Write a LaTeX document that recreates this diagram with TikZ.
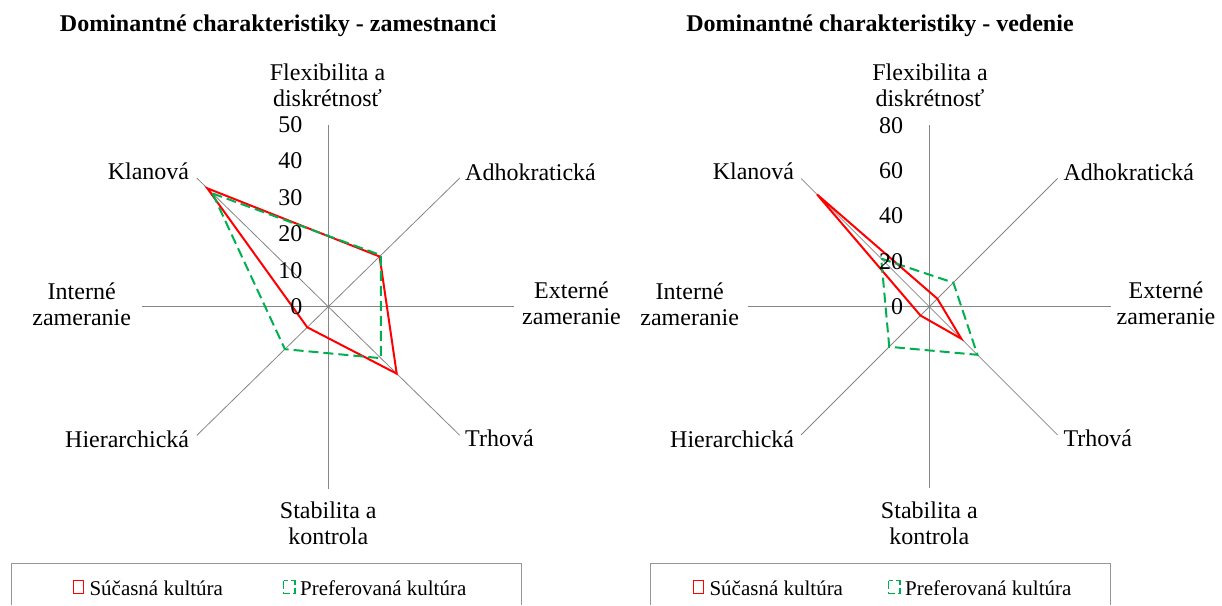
\documentclass[tikz,border=0pt]{standalone}
\usepackage{fontspec}
\setmainfont{Liberation Serif}
\definecolor{curred}{RGB}{255,0,0}
\definecolor{prefgreen}{RGB}{0,176,80}
\definecolor{axisgray}{RGB}{134,134,134}
\definecolor{boxgray}{RGB}{150,150,150}
\begin{document}
\begin{tikzpicture}[x=1pt,y=-1pt,
  lbl/.style={font=\fontsize{24}{26}\selectfont, inner sep=0pt},
  ttl/.style={font=\fontsize{24}{26}\selectfont\bfseries, inner sep=0pt, anchor=base},
  tick/.style={font=\fontsize{24}{26}\selectfont, inner sep=0pt, anchor=east},
  axis/.style={draw=axisgray, line width=0.8pt},
  cur/.style={draw=curred, line width=2pt},
  pref/.style={draw=prefgreen, line width=2pt, dash pattern=on 10pt off 5pt},
  legtxt/.style={font=\fontsize{21}{23}\selectfont, inner sep=0pt, anchor=base west},
  legbox/.style={draw=boxgray, line width=1pt},
  curmark/.style={draw=curred, line width=1.5pt},
  prefmark/.style={draw=prefgreen, line width=1.5pt, dash pattern=on 8pt off 3pt}]
\useasboundingbox (0,0) rectangle (1222,605);

% ---------------- left chart: zamestnanci ----------------
\node[ttl] (t1) at (278.3,31.7) {Dominantné charakteristiky - zamestnanci};
\begin{scope}[shift={(328.3pt,-306.7pt)}, x=3.72pt, y=3.64pt]
  \coordinate (LFx) at (90:50);  \coordinate (LSt) at (-90:50);
  \coordinate (LIn) at (180:50); \coordinate (LEx) at (0:50);
  \coordinate (LKl) at (135:50); \coordinate (LTr) at (-45:50);
  \coordinate (LAd) at (45:50);  \coordinate (LHi) at (-135:50);
  \draw[axis] (LFx) -- (LSt);
  \draw[axis] (LIn) -- (LEx);
  \draw[axis] (LKl) -- (LTr);
  \draw[axis] (LAd) -- (LHi);
  % current culture
  \coordinate (lck) at (135:46);
  \coordinate (lca) at (45:19.5);
  \coordinate (lct) at (-45:26);
  \coordinate (lch) at (-135:8);
  \draw[cur] (lck) -- (lca) -- (lct) -- (lch) -- cycle;
  % preferred culture
  \coordinate (lpk) at (135:44);
  \coordinate (lpa) at (45:20);
  \coordinate (lpt) at (-45:20);
  \coordinate (lph) at (-135:16.5);
  \draw[pref] (lpk) -- (lpa) -- (lpt) -- (lph) -- cycle;
\end{scope}
\node[tick] (l0)  at (302.5,306.7) {0};
\node[tick] (l10) at (302.5,270.3) {10};
\node[tick] (l20) at (302.5,233.9) {20};
\node[tick] (l30) at (302.5,197.5) {30};
\node[tick] (l40) at (302.5,161.1) {40};
\node[tick] (l50) at (302.5,124.7) {50};
\node[lbl, anchor=base] (lfx1) at (327.5,80.7) {Flexibilita a};
\node[lbl, anchor=base] (lfx2) at (327.5,106.7) {diskrétnosť};
\node[lbl, anchor=base east] (lkl) at (189.3,179.3) {Klanová};
\node[lbl, anchor=base west] (lad) at (465,180) {Adhokratická};
\node[lbl, anchor=base] (lin1) at (81.7,299) {Interné};
\node[lbl, anchor=base] (lin2) at (81.7,325) {zameranie};
\node[lbl, anchor=base] (lex1) at (571.5,298.3) {Externé};
\node[lbl, anchor=base] (lex2) at (571.5,324.3) {zameranie};
\node[lbl, anchor=base west] (ltr) at (465,446.7) {Trhová};
\node[lbl, anchor=base east] (lhi) at (189.3,447.3) {Hierarchická};
\node[lbl, anchor=base] (lst1) at (328.3,518) {Stabilita a};
\node[lbl, anchor=base] (lst2) at (328.3,544) {kontrola};
% legend
\coordinate (lb1) at (11.7,605);  \coordinate (lb2) at (11.7,563.3);
\coordinate (lb3) at (521.7,563.3); \coordinate (lb4) at (521.7,605);
\draw[legbox] (lb1) -- (lb2) -- (lb3) -- (lb4);
\draw[curmark] (73.5,580.5) rectangle (83.3,593.3);
\node[legtxt] (llc) at (89.3,595) {Súčasná kultúra};
\draw[prefmark] (283.5,580.5) rectangle (295,593.3);
\node[legtxt] (llp) at (300,595) {Preferovaná kultúra};

% ---------------- right chart: vedenie ----------------
\node[ttl] (t2) at (880,31.7) {Dominantné charakteristiky - vedenie};
\begin{scope}[shift={(929.3pt,-306.7pt)}, x=2.267pt, y=2.267pt]
  \coordinate (RFx) at (90:80);  \coordinate (RSt) at (-90:80);
  \coordinate (RIn) at (180:80); \coordinate (REx) at (0:80);
  \coordinate (RKl) at (135:80); \coordinate (RTr) at (-45:80);
  \coordinate (RAd) at (45:80);  \coordinate (RHi) at (-135:80);
  \draw[axis] (RFx) -- (RSt);
  \draw[axis] (RIn) -- (REx);
  \draw[axis] (RKl) -- (RTr);
  \draw[axis] (RAd) -- (RHi);
  % current culture
  \coordinate (rck) at (135:70);
  \coordinate (rca) at (45:5);
  \coordinate (rct) at (-45:20);
  \coordinate (rch) at (-135:5.5);
  \draw[cur] (rck) -- (rca) -- (rct) -- (rch) -- cycle;
  % preferred culture
  \coordinate (rpk) at (135:30);
  \coordinate (rpa) at (45:15);
  \coordinate (rpt) at (-45:30);
  \coordinate (rph) at (-135:25);
  \draw[pref] (rpk) -- (rpa) -- (rpt) -- (rph) -- cycle;
\end{scope}
\node[tick] (r0)  at (903.3,306.7) {0};
\node[tick] (r20) at (903.3,261.4) {20};
\node[tick] (r40) at (903.3,216.0) {40};
\node[tick] (r60) at (903.3,170.7) {60};
\node[tick] (r80) at (903.3,125.4) {80};
\node[lbl, anchor=base] (rfx1) at (930,80.7) {Flexibilita a};
\node[lbl, anchor=base] (rfx2) at (930,106.7) {diskrétnosť};
\node[lbl, anchor=base east] (rkl) at (794.3,179.3) {Klanová};
\node[lbl, anchor=base west] (rad) at (1063.3,180) {Adhokratická};
\node[lbl, anchor=base] (rin1) at (689.7,299) {Interné};
\node[lbl, anchor=base] (rin2) at (689.7,325) {zameranie};
\node[lbl, anchor=base] (rex1) at (1166,298.3) {Externé};
\node[lbl, anchor=base] (rex2) at (1166,324.3) {zameranie};
\node[lbl, anchor=base west] (rtr) at (1063.3,446.7) {Trhová};
\node[lbl, anchor=base east] (rhi) at (794.3,447.3) {Hierarchická};
\node[lbl, anchor=base] (rst1) at (929.3,518) {Stabilita a};
\node[lbl, anchor=base] (rst2) at (929.3,544) {kontrola};
% legend
\coordinate (rb1) at (650,605);  \coordinate (rb2) at (650,563.3);
\coordinate (rb3) at (1110,563.3); \coordinate (rb4) at (1110,605);
\draw[legbox] (rb1) -- (rb2) -- (rb3) -- (rb4);
\draw[curmark] (693.5,580.5) rectangle (703.3,593.3);
\node[legtxt] (rlc) at (709.3,595) {Súčasná kultúra};
\draw[prefmark] (888.5,580.5) rectangle (900,593.3);
\node[legtxt] (rlp) at (905,595) {Preferovaná kultúra};
\end{tikzpicture}
\end{document}
